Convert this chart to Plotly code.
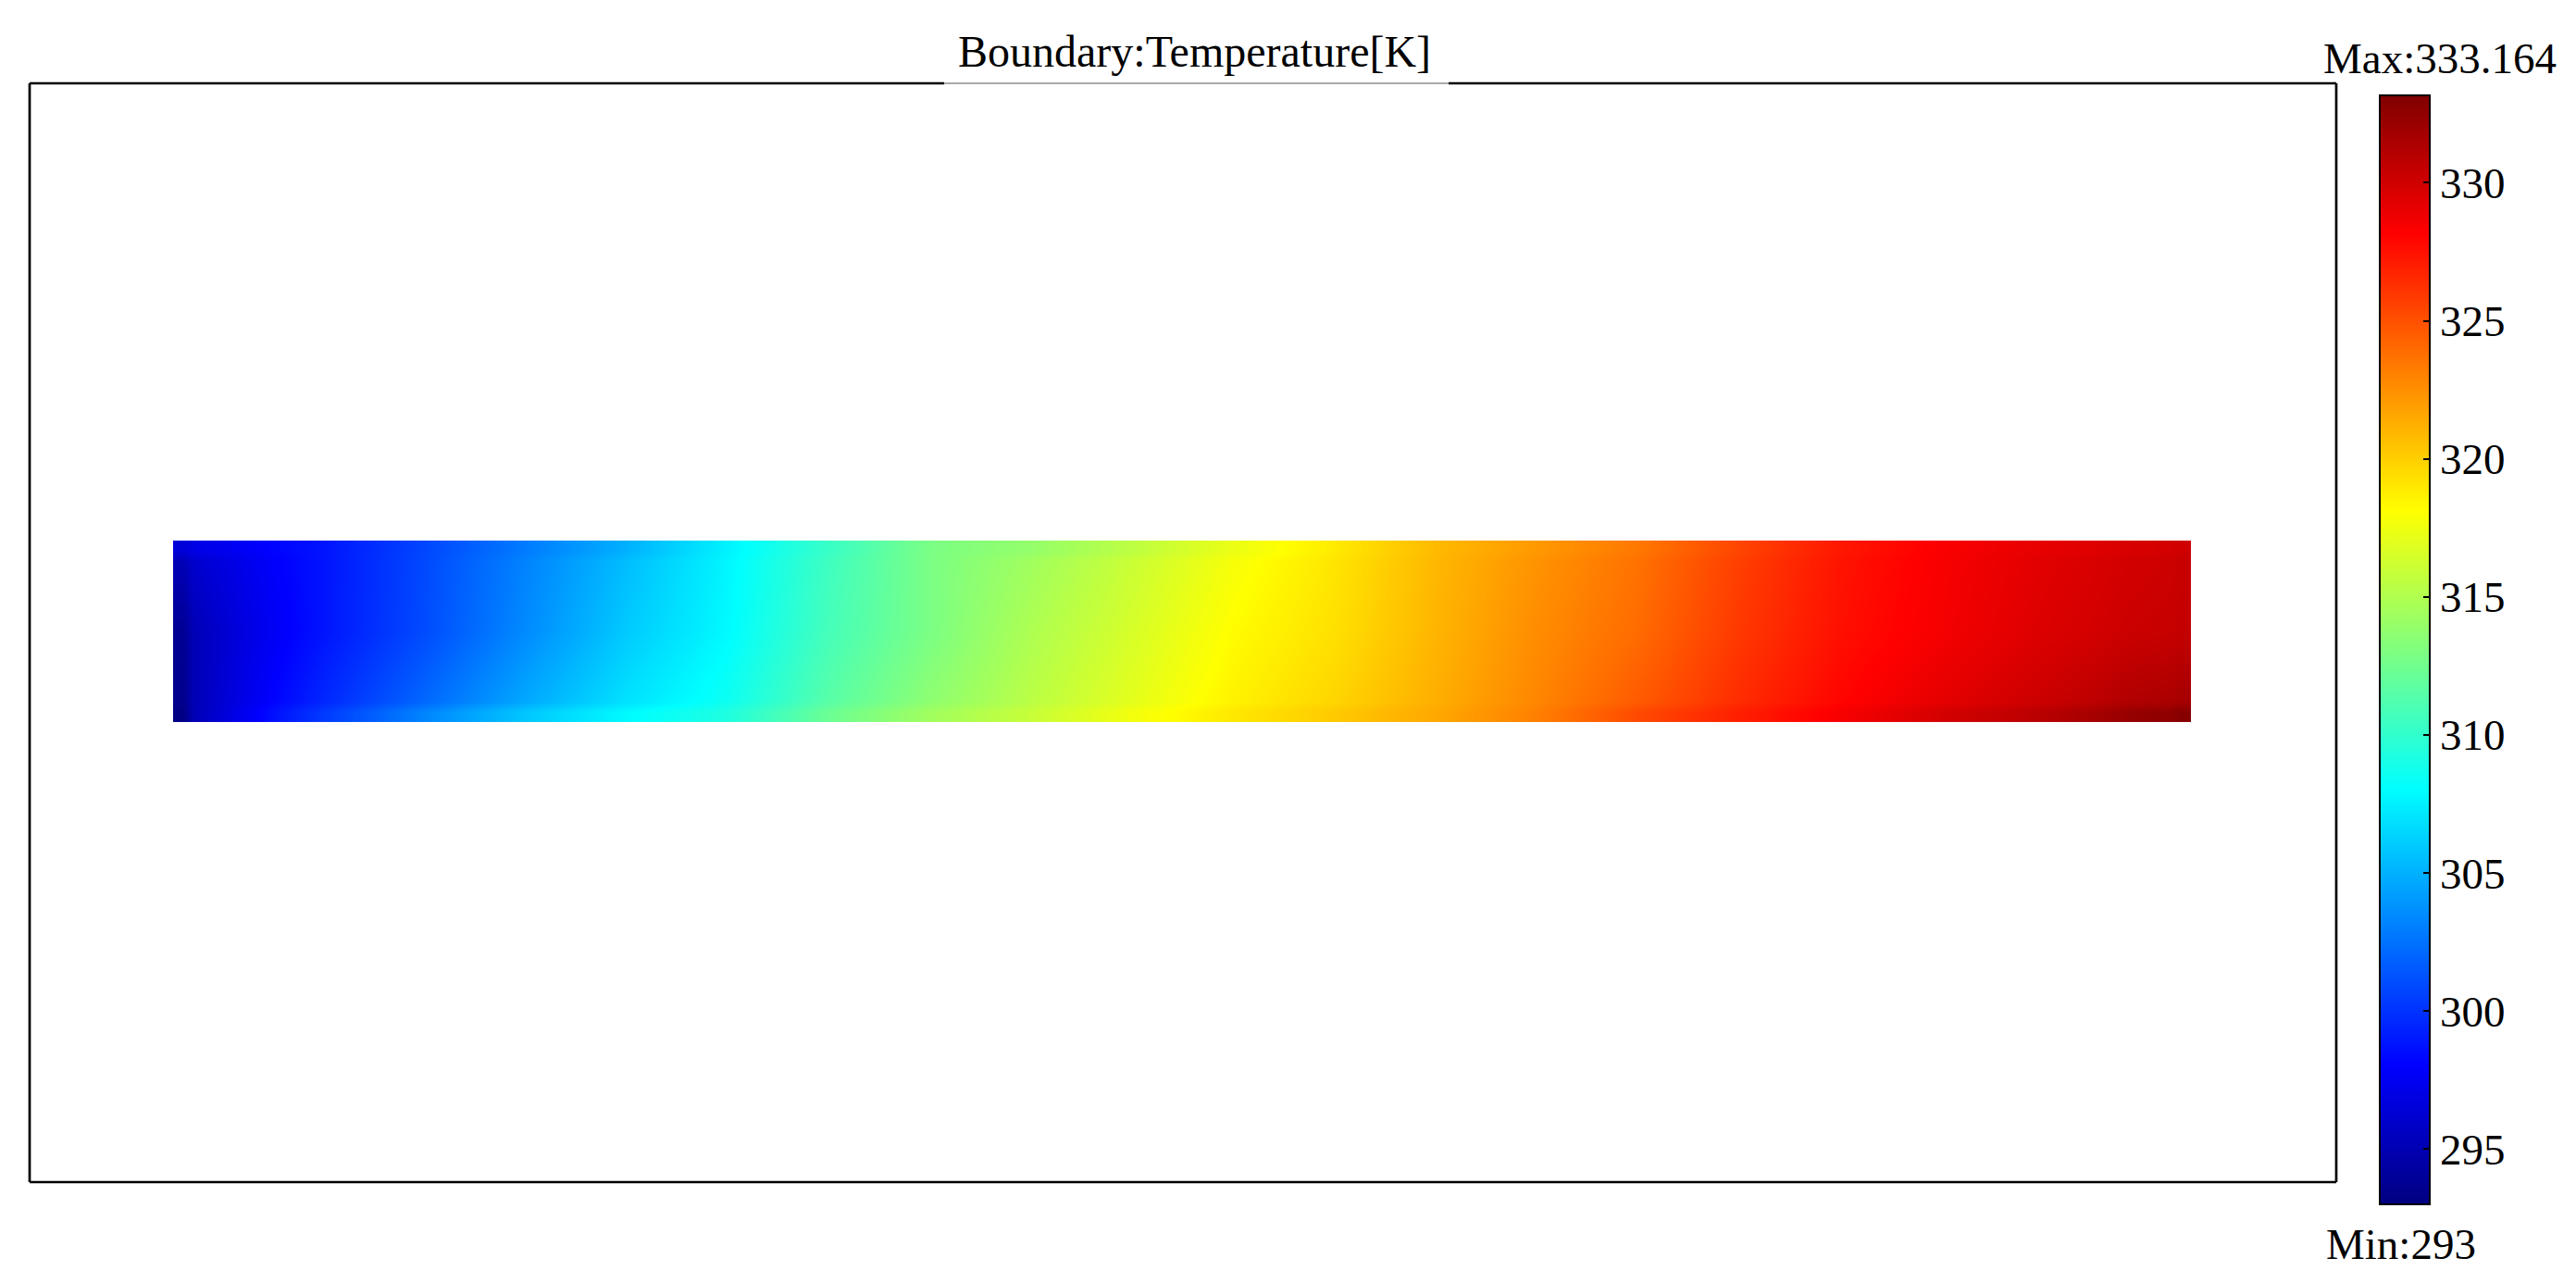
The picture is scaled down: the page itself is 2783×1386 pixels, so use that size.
import plotly.graph_objects as go

# strip geometry: cell edges along the strip and across it (length units)
x_edges = [0, 1, 5, 10, 15, 20, 25, 30, 35, 40, 45, 50, 55, 60, 65, 70, 75, 80, 85, 90, 95, 99, 100]
y_edges = [0, 1, 8, 9]

# temperature [K] read at cell centres, bottom / middle / top of the strip
t_bottom = [293.2, 297.0, 300.3, 303.3, 305.9, 307.9, 309.3, 312.3, 314.4, 315.9, 317.6,
            319.0, 320.2, 321.5, 323.1, 325.2, 326.9, 328.4, 329.8, 330.9, 332.3, 332.9]
t_middle = [293.8, 296.5, 298.8, 301.0, 303.5, 306.0, 307.9, 310.8, 312.9, 314.9, 316.5,
            318.2, 319.3, 321.0, 322.6, 323.9, 325.9, 327.5, 328.5, 329.5, 330.2, 330.5]
t_top = [296.5, 297.5, 298.8, 300.8, 302.9, 305.0, 307.6, 310.3, 312.9, 313.9, 315.5,
         317.3, 318.9, 320.8, 322.1, 323.4, 325.4, 327.2, 328.3, 329.1, 329.7, 330.1]

t_min = 293
t_max = 333.164
tick_vals = [295, 300, 305, 310, 315, 320, 325, 330]

jet = [[0.0, "rgb(0,0,128)"], [0.125, "rgb(0,0,255)"], [0.375, "rgb(0,255,255)"],
       [0.625, "rgb(255,255,0)"], [0.875, "rgb(255,0,0)"], [1.0, "rgb(128,0,0)"]]

W, H = 2783, 1386
ml, mr, mt, mb = 32, 259, 90, 109
pw, ph = W - ml - mr, H - mt - mb

font = "Liberation Serif, Times New Roman, serif"

# colorbar placement (pixels -> paper)
cb_left_px, cb_top_px, cb_bot_px = 2571, 103, 1301
cb_x = (cb_left_px - ml) / pw
cb_ytop = (H - mb - cb_top_px) / ph
cb_ybot = (H - mb - cb_bot_px) / ph

fig = go.Figure(go.Heatmap(
    x=x_edges, y=y_edges, z=[t_bottom, t_middle, t_top],
    zmin=t_min, zmax=t_max, zsmooth="best", colorscale=jet,
    hoverinfo="skip",
    colorbar=dict(
        x=cb_x, xanchor="left", xpad=0, ypad=0,
        y=(cb_ytop + cb_ybot) / 2, yanchor="middle",
        len=cb_bot_px - cb_top_px, lenmode="pixels",
        thickness=54, thicknessmode="pixels",
        outlinecolor="black", outlinewidth=2,
        tickvals=tick_vals, ticks="inside", ticklen=8, tickwidth=2, tickcolor="black",
        tickfont=dict(family=font, size=47, color="black"),
    ),
))

shapes = []
black = dict(color="black", width=2.7)
# frame with a gap under the title
shapes.append(dict(type="line", xref="paper", yref="paper", x0=0, x1=0, y0=0, y1=1, line=black))
shapes.append(dict(type="line", xref="paper", yref="paper", x0=1, x1=1, y0=0, y1=1, line=black))
shapes.append(dict(type="line", xref="paper", yref="paper", x0=0, x1=1, y0=0, y1=0, line=black))
gap0, gap1 = (1020 - ml) / pw, (1565 - ml) / pw
shapes.append(dict(type="line", xref="paper", yref="paper", x0=0, x1=gap0, y0=1, y1=1, line=black))
shapes.append(dict(type="line", xref="paper", yref="paper", x0=gap1, x1=1, y0=1, y1=1, line=black))
shapes.append(dict(type="line", xref="paper", yref="paper", x0=gap0, x1=gap1, y0=1, y1=1,
                   line=dict(color="#555555", width=1)))
# ticks on the left edge of the colorbar too
for v in tick_vals:
    yy = cb_ybot + (v - t_min) / (t_max - t_min) * (cb_ytop - cb_ybot)
    shapes.append(dict(type="line", xref="paper", yref="paper",
                       x0=cb_x, x1=cb_x + 9 / pw, y0=yy, y1=yy,
                       line=dict(color="black", width=2)))

annotations = [
    dict(text="Boundary:Temperature[K]", xref="paper", yref="paper",
         x=(1290 - ml) / pw, y=(H - mb - 55) / ph, xanchor="center", yanchor="middle",
         showarrow=False, font=dict(family=font, size=48, color="black")),
    dict(text="Max:333.164", xref="paper", yref="paper",
         x=(2508 - ml) / pw, y=(H - mb - 63) / ph, xanchor="left", yanchor="middle",
         showarrow=False, font=dict(family=font, size=47, color="black")),
    dict(text="Min:293", xref="paper", yref="paper",
         x=(2511 - ml) / pw, y=(H - mb - 1344) / ph, xanchor="left", yanchor="middle",
         showarrow=False, font=dict(family=font, size=47, color="black")),
]

fig.update_layout(
    width=W, height=H,
    margin=dict(l=ml, r=mr, t=mt, b=mb),
    paper_bgcolor="white", plot_bgcolor="white",
    shapes=shapes, annotations=annotations,
    xaxis=dict(range=[-7.11, 107.2], visible=False, showgrid=False, zeroline=False),
    yaxis=dict(range=[-22.82, 31.68], visible=False, showgrid=False, zeroline=False),
)

# page body has a default 8px margin; drop it so the figure sits at the window origin
fig.write_html("out.html", config={"displayModeBar": False},
               post_script="document.body.style.margin='0';")
